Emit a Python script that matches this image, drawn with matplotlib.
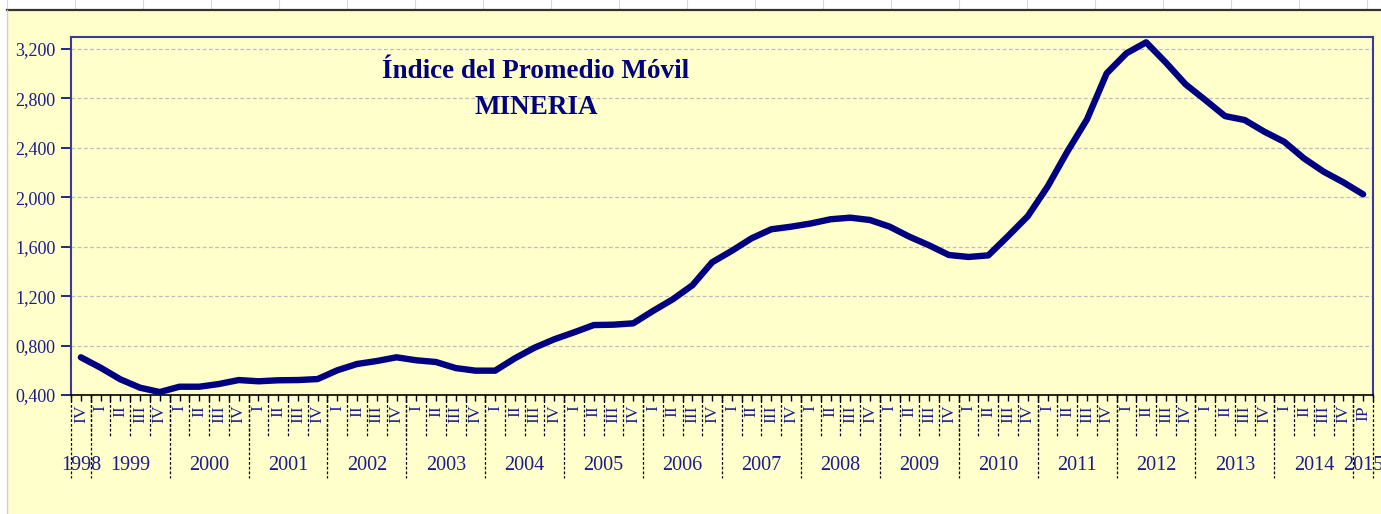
import matplotlib
matplotlib.use("Agg")
import matplotlib.pyplot as plt
from matplotlib.lines import Line2D
from matplotlib.patches import Rectangle
import matplotlib.transforms as mtransforms

# ---------------- data ----------------
years = ["1998", "1999", "2000", "2001", "2002", "2003", "2004", "2005", "2006",
         "2007", "2008", "2009", "2010", "2011", "2012", "2013", "2014", "2015"]
quarters_per_year = [1] + [4] * 16 + [1]
quarter_names = ["I", "II", "III", "IV"]
first_quarter_label = ["IV"]
last_quarter_label = ["IP"]

values = [
    0.705, 0.621, 0.527, 0.459, 0.424,            # 1998 IV, 1999
    0.467, 0.467, 0.489, 0.521,                   # 2000
    0.511, 0.519, 0.521, 0.529,                   # 2001
    0.600, 0.651, 0.675, 0.705,                   # 2002
    0.681, 0.667, 0.618, 0.597,                   # 2003
    0.597, 0.697, 0.783, 0.851,                   # 2004
    0.907, 0.966, 0.969, 0.980,                   # 2005
    1.080, 1.174, 1.288, 1.474,                   # 2006
    1.567, 1.668, 1.741, 1.762,                   # 2007
    1.788, 1.822, 1.835, 1.816,                   # 2008
    1.762, 1.681, 1.611, 1.533,                   # 2009
    1.517, 1.530, 1.686, 1.847,                   # 2010
    2.085, 2.368, 2.630, 3.003,                   # 2011
    3.165, 3.254, 3.090, 2.914,                   # 2012
    2.787, 2.657, 2.625, 2.530,                   # 2013
    2.449, 2.315, 2.207, 2.121,                   # 2014
    2.024,                                        # 2015 IP
]
yticks = [0.4, 0.8, 1.2, 1.6, 2.0, 2.4, 2.8, 3.2]
title_line1 = "Índice del Promedio Móvil"
title_line2 = "MINERIA"

# build quarter labels
qlabels = list(first_quarter_label)
for n in quarters_per_year[1:-1]:
    qlabels += quarter_names[:n]
qlabels += last_quarter_label
N = len(values)
xs = list(range(N))

# ---------------- style ----------------
BG = "#FFFFCC"
NAVY = "#000080"
TXT = "#1C1C8A"
SERIF = ["Liberation Serif", "DejaVu Serif"]

W, H = 1381, 514
fig = plt.figure(figsize=(W / 100, H / 100), dpi=100, facecolor=BG)

# spreadsheet-like top strip and left strip
fig.patches.append(Rectangle((0, 1 - 9 / H), 1, 9 / H, transform=fig.transFigure,
                             facecolor="white", edgecolor="none", zorder=0))
for cx in range(7, W, 68):
    fig.lines.append(Line2D([cx / W, cx / W], [1 - 9 / H, 1], transform=fig.transFigure,
                            color="#D8D8D8", lw=0.8))
fig.lines.append(Line2D([7 / W, 1], [1 - 10 / H, 1 - 10 / H], transform=fig.transFigure,
                        color="#333333", lw=1.6))
fig.patches.append(Rectangle((0, 0), 7 / W, 1 - 10 / H, transform=fig.transFigure,
                             facecolor="white", edgecolor="none", zorder=0))
fig.lines.append(Line2D([7 / W, 7 / W], [0, 1 - 10 / H], transform=fig.transFigure,
                        color="#D0D0D0", lw=1.0))

L, R, T, B = 71, 1373, 37, 395
ax = fig.add_axes([L / W, 1 - B / H, (R - L) / W, (B - T) / H], facecolor=BG)

ax.plot(xs, values, color=NAVY, lw=4.6, solid_capstyle="round", solid_joinstyle="round",
        zorder=3)

ax.set_xlim(-0.5, N - 0.5)
ax.set_ylim(0.4, 3.297)

ax.set_yticks(yticks)
ax.set_yticklabels([f"{v:.3f}".replace(".", ",") for v in yticks],
                   fontfamily=SERIF, fontsize=13, color=TXT)
ax.tick_params(axis="y", direction="out", length=7, width=1.2, color=NAVY, pad=4)
ax.yaxis.grid(True, linestyle=(0, (3, 2)), color="#BDBDC4", lw=0.9)
ax.set_axisbelow(True)

# x ticks: at boundaries and centers
ax.set_xticks([k - 0.5 for k in range(N + 1)])
ax.set_xticks(xs, minor=True)
ax.set_xticklabels([])
ax.tick_params(axis="x", which="both", direction="out", length=4, width=1.0,
               color="black")

for side in ("left", "top", "right"):
    ax.spines[side].set_color("#3A3A9A")
    ax.spines[side].set_linewidth(1.5)
ax.spines["bottom"].set_color("black")
ax.spines["bottom"].set_linewidth(1.2)

trans = mtransforms.blended_transform_factory(ax.transData, ax.transAxes)
pxy = lambda p: -(p - B) / (B - T)

# quarter labels
for i, q in enumerate(qlabels):
    ax.text(i, pxy(405), q, transform=trans, rotation=90, ha="center", va="top",
            fontfamily=SERIF, fontsize=12.5, color=TXT, clip_on=False)

# quarter separators
for k in range(1, N):
    ax.add_line(Line2D([k - 0.5, k - 0.5], [0, pxy(437)], transform=trans,
                       color="black", lw=0.9, linestyle=(0, (2.2, 1.6)), clip_on=False))

# year separators and labels
start = 0
bounds = [-0.5]
for y, n in zip(years, quarters_per_year):
    center = start + (n - 1) / 2
    ax.text(center, pxy(465), y, transform=trans, ha="center", va="center",
            fontfamily=SERIF, fontsize=14.5, color=TXT, clip_on=False)
    start += n
    bounds.append(start - 0.5)
for b in bounds:
    ax.add_line(Line2D([b, b], [0, pxy(478)], transform=trans,
                       color="black", lw=0.9, linestyle=(0, (2.2, 1.6)), clip_on=False))

# title
fig.text(536 / W, 1 - 72 / H, title_line1, ha="center", va="center",
         fontfamily=SERIF, fontsize=19.5, fontweight="bold", color=NAVY)
fig.text(536 / W, 1 - 107 / H, title_line2, ha="center", va="center",
         fontfamily=SERIF, fontsize=19.5, fontweight="bold", color=NAVY)

fig.savefig("out.png", dpi=100, facecolor=BG)
